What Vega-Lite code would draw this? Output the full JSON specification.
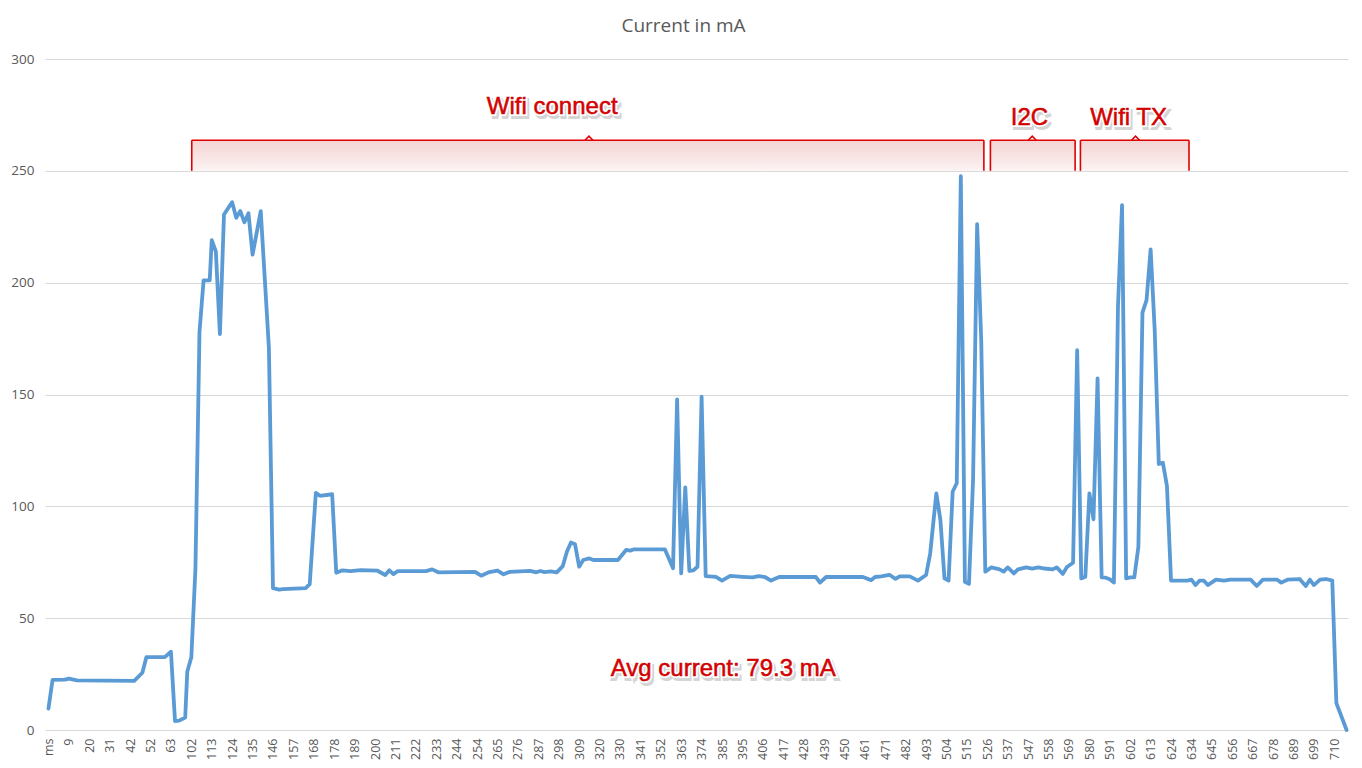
{
  "$schema": "https://vega.github.io/schema/vega-lite/v6.json",
  "width": 1303,
  "height": 671,
  "autosize": {"type": "none"},
  "padding": {"left": 45, "top": 59, "right": 14, "bottom": 38},
  "background": "white",
  "title": {"text": "Current in mA", "font": "Open Sans", "fontSize": 19, "fontWeight": "normal", "color": "#595959", "anchor": "middle", "dx": -13, "offset": 1, "baseline": "alphabetic"},
  "config": {
    "view": {"stroke": null},
    "axisX": {"labelOverlap": false, "labelFlush": false, "labelBound": false, "labelAngle": -90, "labelPadding": 8, "labelFont": "Open Sans", "labelFontSize": 12.5, "labelColor": "#595959", "grid": false, "domain": false, "ticks": false, "tickCount": 64},
    "axisY": {"grid": true, "gridColor": "#d9d9d9", "gridWidth": 1, "domain": false, "ticks": false, "labelPadding": 11, "labelFont": "Open Sans", "labelFontSize": 13.5, "labelColor": "#595959"}
  },
  "datasets": {
    "current": [
      {"sample": 0, "mA": 9.6}, {"sample": 2, "mA": 22.4}, {"sample": 8, "mA": 22.5}, {"sample": 10, "mA": 23}, {"sample": 14, "mA": 22.2},
      {"sample": 42, "mA": 22}, {"sample": 46, "mA": 25.6}, {"sample": 48, "mA": 32.6}, {"sample": 57, "mA": 32.6}, {"sample": 60, "mA": 35},
      {"sample": 62, "mA": 4}, {"sample": 64, "mA": 4.2}, {"sample": 67, "mA": 5.6}, {"sample": 68, "mA": 26}, {"sample": 70, "mA": 32.5},
      {"sample": 72, "mA": 72}, {"sample": 74, "mA": 178}, {"sample": 76, "mA": 201}, {"sample": 79, "mA": 201}, {"sample": 80, "mA": 219},
      {"sample": 82, "mA": 214}, {"sample": 84, "mA": 177}, {"sample": 86, "mA": 230.5}, {"sample": 90, "mA": 236}, {"sample": 92, "mA": 229},
      {"sample": 94, "mA": 232}, {"sample": 96, "mA": 227}, {"sample": 98, "mA": 231}, {"sample": 100, "mA": 212.5}, {"sample": 104, "mA": 232},
      {"sample": 108, "mA": 171}, {"sample": 110, "mA": 63.4}, {"sample": 113, "mA": 62.8}, {"sample": 115, "mA": 63}, {"sample": 126, "mA": 63.4},
      {"sample": 128, "mA": 65.2}, {"sample": 131, "mA": 106}, {"sample": 133, "mA": 104.7}, {"sample": 139, "mA": 105.4}, {"sample": 141, "mA": 70.3},
      {"sample": 144, "mA": 71.4}, {"sample": 148, "mA": 71}, {"sample": 153, "mA": 71.5}, {"sample": 161, "mA": 71.3}, {"sample": 165, "mA": 69.3},
      {"sample": 167, "mA": 71.4}, {"sample": 169, "mA": 69.7}, {"sample": 171, "mA": 71}, {"sample": 185, "mA": 71}, {"sample": 188, "mA": 71.8},
      {"sample": 191, "mA": 70.5}, {"sample": 209, "mA": 70.7}, {"sample": 212, "mA": 69}, {"sample": 216, "mA": 70.6}, {"sample": 220, "mA": 71.3},
      {"sample": 223, "mA": 69.6}, {"sample": 226, "mA": 70.7}, {"sample": 236, "mA": 71.1}, {"sample": 239, "mA": 70.5}, {"sample": 241, "mA": 71.1},
      {"sample": 243, "mA": 70.6}, {"sample": 246, "mA": 70.9}, {"sample": 249, "mA": 70.5}, {"sample": 252, "mA": 73.3}, {"sample": 254, "mA": 79.7},
      {"sample": 256, "mA": 83.8}, {"sample": 258, "mA": 83}, {"sample": 260, "mA": 73}, {"sample": 262, "mA": 76}, {"sample": 265, "mA": 76.7},
      {"sample": 267, "mA": 76}, {"sample": 279, "mA": 76}, {"sample": 283, "mA": 80.5}, {"sample": 285, "mA": 80.2}, {"sample": 287, "mA": 80.8},
      {"sample": 302, "mA": 80.8}, {"sample": 306, "mA": 72.3}, {"sample": 308, "mA": 147.8}, {"sample": 310, "mA": 70}, {"sample": 312, "mA": 108.5},
      {"sample": 314, "mA": 71.1}, {"sample": 316, "mA": 71.4}, {"sample": 318, "mA": 73}, {"sample": 320, "mA": 149}, {"sample": 322, "mA": 68.8},
      {"sample": 327, "mA": 68.5}, {"sample": 330, "mA": 66.8}, {"sample": 334, "mA": 68.9}, {"sample": 340, "mA": 68.5}, {"sample": 345, "mA": 68.2},
      {"sample": 348, "mA": 68.8}, {"sample": 351, "mA": 68.4}, {"sample": 354, "mA": 66.8}, {"sample": 358, "mA": 68.4}, {"sample": 376, "mA": 68.4},
      {"sample": 378, "mA": 65.9}, {"sample": 381, "mA": 68.4}, {"sample": 399, "mA": 68.4}, {"sample": 403, "mA": 67}, {"sample": 405, "mA": 68.4},
      {"sample": 408, "mA": 68.7}, {"sample": 412, "mA": 69.4}, {"sample": 415, "mA": 67.6}, {"sample": 417, "mA": 68.7}, {"sample": 422, "mA": 68.7},
      {"sample": 426, "mA": 66.8}, {"sample": 430, "mA": 69.3}, {"sample": 432, "mA": 79}, {"sample": 435, "mA": 105.8}, {"sample": 437, "mA": 93.9},
      {"sample": 439, "mA": 67.8}, {"sample": 441, "mA": 66.8}, {"sample": 443, "mA": 106.5}, {"sample": 445, "mA": 110.3}, {"sample": 447, "mA": 247.6},
      {"sample": 449, "mA": 66.3}, {"sample": 451, "mA": 65.3}, {"sample": 453, "mA": 111.8}, {"sample": 455, "mA": 226.2}, {"sample": 457, "mA": 174.3},
      {"sample": 459, "mA": 70.8}, {"sample": 462, "mA": 72.7}, {"sample": 466, "mA": 71.8}, {"sample": 468, "mA": 70.8}, {"sample": 470, "mA": 72.7},
      {"sample": 473, "mA": 70}, {"sample": 475, "mA": 71.8}, {"sample": 479, "mA": 72.7}, {"sample": 482, "mA": 72.2}, {"sample": 485, "mA": 72.7},
      {"sample": 488, "mA": 72.2}, {"sample": 492, "mA": 71.8}, {"sample": 494, "mA": 72.7}, {"sample": 497, "mA": 69.8}, {"sample": 499, "mA": 72.9},
      {"sample": 502, "mA": 74.8}, {"sample": 504, "mA": 169.8}, {"sample": 506, "mA": 67.8}, {"sample": 508, "mA": 68.5}, {"sample": 510, "mA": 105.8},
      {"sample": 512, "mA": 94.2}, {"sample": 514, "mA": 157.2}, {"sample": 516, "mA": 68.2}, {"sample": 518, "mA": 68.1}, {"sample": 520, "mA": 67.4},
      {"sample": 522, "mA": 65.9}, {"sample": 524, "mA": 189.3}, {"sample": 526, "mA": 234.7}, {"sample": 528, "mA": 67.8}, {"sample": 530, "mA": 68.2},
      {"sample": 532, "mA": 68.2}, {"sample": 534, "mA": 81.9}, {"sample": 536, "mA": 186.6}, {"sample": 538, "mA": 192.2}, {"sample": 540, "mA": 214.9},
      {"sample": 542, "mA": 178.8}, {"sample": 544, "mA": 118.9}, {"sample": 546, "mA": 119.5}, {"sample": 548, "mA": 109.1}, {"sample": 550, "mA": 66.8},
      {"sample": 558, "mA": 66.8}, {"sample": 560, "mA": 67.2}, {"sample": 562, "mA": 64.8}, {"sample": 564, "mA": 66.8}, {"sample": 566, "mA": 66.8},
      {"sample": 568, "mA": 64.8}, {"sample": 572, "mA": 67.2}, {"sample": 576, "mA": 66.8}, {"sample": 579, "mA": 67.2}, {"sample": 589, "mA": 67.2},
      {"sample": 592, "mA": 64.4}, {"sample": 595, "mA": 67.2}, {"sample": 602, "mA": 67.2}, {"sample": 604, "mA": 65.9}, {"sample": 607, "mA": 67.2},
      {"sample": 613, "mA": 67.5}, {"sample": 616, "mA": 64.4}, {"sample": 618, "mA": 67.2}, {"sample": 620, "mA": 64.8}, {"sample": 623, "mA": 67.2},
      {"sample": 626, "mA": 67.5}, {"sample": 629, "mA": 66.8}, {"sample": 631, "mA": 12}, {"sample": 636, "mA": 0}
    ],
    "braces": [
      {"phase": "Wifi connect", "start": 70.2, "end": 458.3, "mid": 264.8},
      {"phase": "I2C", "start": 461.5, "end": 503, "mid": 482},
      {"phase": "Wifi TX", "start": 505.6, "end": 558.8, "mid": 532.6}
    ],
    "notes": [
      {"text": "Wifi connect", "at": 246.8, "level": 278.5},
      {"text": "I2C", "at": 480.6, "level": 273.8},
      {"text": "Wifi TX", "at": 529.2, "level": 273.8},
      {"text": "Avg current: 79.3 mA", "at": 330.6, "level": 27.3}
    ]
  },
  "layer": [
    {
      "data": {"name": "current"},
      "mark": {"type": "line", "color": "#5b9bd5", "strokeWidth": 3.8, "strokeJoin": "round", "strokeCap": "round"},
      "encoding": {
        "x": {"field": "sample", "type": "quantitative", "title": null,
          "scale": {"domain": [-1.7, 636.7], "nice": false, "zero": false},
          "axis": {"title": null, "labelOverlap": false, "tickCount": 64,
            "values": [0,10,20,30,40,50,60,70,80,90,100,110,120,130,140,150,160,170,180,190,200,210,220,230,240,250,260,270,280,290,300,310,320,330,340,350,360,370,380,390,400,410,420,430,440,450,460,470,480,490,500,510,520,530,540,550,560,570,580,590,600,610,620,630],
            "labelExpr": "['ms','9','20','31','42','52','63','102','113','124','135','146','157','168','178','189','200','211','222','233','244','254','265','276','287','298','309','320','330','341','352','363','374','385','395','406','417','428','439','450','461','471','482','493','504','515','526','537','547','558','569','580','591','602','613','624','634','645','656','667','678','689','699','710'][round(datum.value/10)]"}},
        "y": {"field": "mA", "type": "quantitative", "title": null,
          "scale": {"domain": [0, 300], "nice": false},
          "axis": {"title": null, "values": [0,50,100,150,200,250,300]}}
      }
    },
    {
      "data": {"name": "braces"},
      "mark": {"type": "rect", "color": {"gradient": "linear", "x1": 0, "y1": 0, "x2": 0, "y2": 1, "stops": [{"offset": 0, "color": "#f4d3d3"}, {"offset": 1, "color": "#fcf3f3"}]}},
      "encoding": {
        "x": {"field": "start", "type": "quantitative", "title": null},
        "x2": {"field": "end"},
        "y": {"datum": 263.7, "type": "quantitative", "title": null},
        "y2": {"datum": 250}
      }
    },
    {
      "data": {"name": "braces"},
      "mark": {"type": "rule", "color": "#e00000", "strokeWidth": 1.6},
      "encoding": {
        "x": {"field": "start", "type": "quantitative", "title": null},
        "y": {"datum": 250, "type": "quantitative", "title": null},
        "y2": {"datum": 263.7}
      }
    },
    {
      "data": {"name": "braces"},
      "mark": {"type": "rule", "color": "#e00000", "strokeWidth": 1.6},
      "encoding": {
        "x": {"field": "end", "type": "quantitative", "title": null},
        "y": {"datum": 250, "type": "quantitative", "title": null},
        "y2": {"datum": 263.7}
      }
    },
    {
      "data": {"name": "braces"},
      "mark": {"type": "rule", "color": "#e00000", "strokeWidth": 1.6},
      "encoding": {
        "x": {"field": "start", "type": "quantitative", "title": null},
        "x2": {"field": "end"},
        "y": {"datum": 263.7, "type": "quantitative", "title": null}
      }
    },
    {
      "data": {"name": "braces"},
      "mark": {"type": "point", "shape": "M-1,0L0,-1L1,0", "size": 64, "filled": false, "stroke": "#e00000", "strokeWidth": 1.6, "opacity": 1},
      "encoding": {
        "x": {"field": "mid", "type": "quantitative", "title": null},
        "y": {"datum": 263.7, "type": "quantitative", "title": null}
      }
    },
    {
      "data": {"name": "notes"},
      "mark": {"type": "text", "font": "Liberation Sans", "fontSize": 24, "color": "#777777", "stroke": "#777777", "strokeWidth": 4, "opacity": 0.3, "dx": 2, "dy": 3, "baseline": "middle", "align": "center"},
      "encoding": {
        "x": {"field": "at", "type": "quantitative", "title": null},
        "y": {"field": "level", "type": "quantitative", "title": null},
        "text": {"field": "text"}
      }
    },
    {
      "data": {"name": "notes"},
      "mark": {"type": "text", "font": "Liberation Sans", "fontSize": 24, "color": "#ffffff", "stroke": "#ffffff", "strokeWidth": 4, "baseline": "middle", "align": "center"},
      "encoding": {
        "x": {"field": "at", "type": "quantitative", "title": null},
        "y": {"field": "level", "type": "quantitative", "title": null},
        "text": {"field": "text"}
      }
    },
    {
      "data": {"name": "notes"},
      "mark": {"type": "text", "font": "Liberation Sans", "fontSize": 24, "color": "#e00000", "stroke": "#c00000", "strokeWidth": 0.5, "baseline": "middle", "align": "center"},
      "encoding": {
        "x": {"field": "at", "type": "quantitative", "title": null},
        "y": {"field": "level", "type": "quantitative", "title": null},
        "text": {"field": "text"}
      }
    }
  ]
}
